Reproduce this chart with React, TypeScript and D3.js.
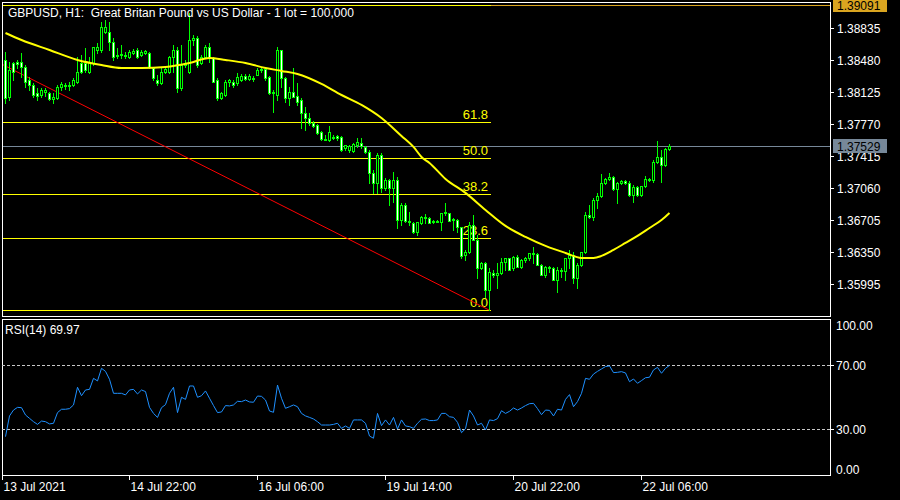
import React from "react";
import * as d3 from "d3";

const openP = [
  1.38484, 1.38073, 1.38451, 1.38462, 1.38462, 1.38406, 1.38262, 1.38207, 1.38118, 1.38096,
  1.38129, 1.38118, 1.38051, 1.38062, 1.38184, 1.38207, 1.38195, 1.38207, 1.3824, 1.38451,
  1.38451, 1.38351, 1.38451, 1.38594, 1.38594, 1.38794, 1.38794, 1.38683, 1.38539, 1.38539,
  1.38539, 1.38517, 1.38561, 1.38594, 1.38539, 1.38561, 1.38561, 1.38395, 1.38262, 1.38229,
  1.38351, 1.38351, 1.38517, 1.38594, 1.38173, 1.38429, 1.38351, 1.38705, 1.38728, 1.38451,
  1.38517, 1.38628, 1.38506, 1.38262, 1.38062, 1.38096, 1.3824, 1.3824, 1.38229, 1.38262,
  1.38306, 1.38273, 1.38284, 1.38317, 1.38373, 1.38384, 1.38295, 1.38118, 1.38096, 1.38594,
  1.38284, 1.38062, 1.38129, 1.38084, 1.3804, 1.37896, 1.3784, 1.37785, 1.37763, 1.37685,
  1.37608, 1.37596, 1.3763, 1.37641, 1.3763, 1.37508, 1.37486, 1.37474, 1.37541, 1.37563,
  1.37519, 1.37463, 1.3723, 1.3712, 1.3743, 1.37064, 1.37153, 1.37064, 1.37153, 1.36709,
  1.36876, 1.36698, 1.36676, 1.36576, 1.36676, 1.36743, 1.36731, 1.36698, 1.36698, 1.36687,
  1.36787, 1.36787, 1.3672, 1.36709, 1.36632, 1.36321, 1.36354, 1.36654, 1.36488, 1.36177,
  1.36232, 1.35933, 1.36122, 1.36099, 1.36122, 1.36243, 1.36288, 1.36177, 1.36299, 1.36188,
  1.36266, 1.36288, 1.36343, 1.36332, 1.3621, 1.36099, 1.36188, 1.36177, 1.36044, 1.36155,
  1.36144, 1.36288, 1.36321, 1.36066, 1.3621, 1.36354, 1.36765, 1.36743, 1.36931, 1.36975,
  1.3712, 1.37164, 1.37186, 1.37053, 1.3712, 1.37142, 1.3712, 1.36987, 1.37075, 1.36987,
  1.37086, 1.37164, 1.37153, 1.37353, 1.37408, 1.37319, 1.37497,
];
const highP = [
  1.38572, 1.38462, 1.38462, 1.38484, 1.38561, 1.38429, 1.38295, 1.38229, 1.38173, 1.38173,
  1.38173, 1.38129, 1.38118, 1.38207, 1.3824, 1.38229, 1.3824, 1.38284, 1.38517, 1.38539,
  1.38617, 1.38517, 1.38628, 1.38672, 1.38905, 1.38927, 1.38905, 1.38728, 1.38617, 1.3865,
  1.38572, 1.38594, 1.38606, 1.38617, 1.38594, 1.38594, 1.38572, 1.38406, 1.38317, 1.38395,
  1.38406, 1.38528, 1.3865, 1.38628, 1.3865, 1.38484, 1.39005, 1.38761, 1.3875, 1.38539,
  1.3865, 1.38672, 1.38517, 1.38284, 1.38129, 1.38262, 1.38273, 1.38262, 1.3834, 1.38328,
  1.38328, 1.38328, 1.38306, 1.38395, 1.38406, 1.38395, 1.38306, 1.38151, 1.38628, 1.38594,
  1.38295, 1.38184, 1.38395, 1.38229, 1.38062, 1.37962, 1.37896, 1.37807, 1.37774, 1.37696,
  1.37652, 1.37752, 1.37652, 1.37652, 1.37641, 1.37541, 1.37541, 1.37563, 1.37619, 1.37619,
  1.3753, 1.37486, 1.37264, 1.37452, 1.37452, 1.37175, 1.37164, 1.37242, 1.37186, 1.36898,
  1.36898, 1.36798, 1.36687, 1.36687, 1.36754, 1.36776, 1.36743, 1.36709, 1.36709, 1.36787,
  1.36898, 1.36787, 1.36731, 1.3672, 1.36632, 1.36377, 1.36687, 1.36765, 1.36543, 1.36243,
  1.36243, 1.36177, 1.36155, 1.36232, 1.36288, 1.36288, 1.36288, 1.3631, 1.36321, 1.36277,
  1.36299, 1.36343, 1.3641, 1.36343, 1.36221, 1.36199, 1.36199, 1.36188, 1.36188, 1.36177,
  1.36288, 1.36377, 1.36354, 1.36232, 1.36354, 1.36798, 1.36876, 1.36953, 1.37009, 1.37219,
  1.37175, 1.3723, 1.37197, 1.37131, 1.37153, 1.37153, 1.37142, 1.37097, 1.37086, 1.37086,
  1.37197, 1.37175, 1.37375, 1.37585, 1.37486, 1.37508, 1.37552,
];
const lowP = [
  1.38007, 1.3804, 1.38262, 1.38395, 1.38295, 1.38184, 1.38151, 1.38073, 1.3804, 1.38073,
  1.38084, 1.3804, 1.38007, 1.38051, 1.38151, 1.38162, 1.38151, 1.38195, 1.38229, 1.3834,
  1.38351, 1.3834, 1.38429, 1.38561, 1.38572, 1.38783, 1.38594, 1.38484, 1.38506, 1.38506,
  1.38506, 1.38506, 1.3855, 1.38506, 1.38528, 1.3855, 1.38395, 1.38262, 1.38207, 1.38218,
  1.3834, 1.3834, 1.38351, 1.38129, 1.38151, 1.38406, 1.3834, 1.3865, 1.38406, 1.3844,
  1.38506, 1.38462, 1.3824, 1.3804, 1.38051, 1.38084, 1.38195, 1.38184, 1.38207, 1.38251,
  1.38262, 1.38262, 1.38251, 1.38317, 1.38351, 1.38262, 1.38107, 1.37907, 1.3804, 1.38184,
  1.38018, 1.37985, 1.38073, 1.37985, 1.3773, 1.37707, 1.37763, 1.37741, 1.37663, 1.37596,
  1.37596, 1.37585, 1.37608, 1.37596, 1.37474, 1.37486, 1.37463, 1.37463, 1.37519, 1.37508,
  1.37452, 1.3712, 1.37009, 1.37009, 1.3702, 1.37042, 1.36876, 1.36909, 1.36621, 1.36654,
  1.36687, 1.36654, 1.36565, 1.36543, 1.36665, 1.36676, 1.36676, 1.36676, 1.36687, 1.36598,
  1.36765, 1.36698, 1.36598, 1.36576, 1.36288, 1.36266, 1.36343, 1.36488, 1.36066, 1.36166,
  1.35855, 1.35707, 1.36077, 1.35955, 1.3611, 1.36155, 1.36155, 1.36155, 1.36188, 1.36177,
  1.36243, 1.36266, 1.36232, 1.3621, 1.36099, 1.36077, 1.36133, 1.36044, 1.35911, 1.36077,
  1.36044, 1.36177, 1.36011, 1.35955, 1.36199, 1.36343, 1.36731, 1.36709, 1.36842, 1.36964,
  1.37109, 1.37153, 1.37042, 1.36898, 1.37109, 1.37109, 1.36975, 1.36909, 1.36975, 1.36975,
  1.37075, 1.37142, 1.37131, 1.37341, 1.37131, 1.37308, 1.37486,
];
const closeP = [
  1.38062, 1.38373, 1.38351, 1.3844, 1.38406, 1.3824, 1.38207, 1.38096, 1.38084, 1.38151,
  1.38151, 1.38051, 1.38073, 1.38184, 1.38218, 1.38195, 1.38207, 1.38262, 1.38351, 1.38351,
  1.38373, 1.38462, 1.38628, 1.38628, 1.3885, 1.3885, 1.38683, 1.38517, 1.38528, 1.3855,
  1.38528, 1.38572, 1.38583, 1.38517, 1.38572, 1.38583, 1.38406, 1.38284, 1.38229, 1.38351,
  1.38384, 1.38517, 1.38594, 1.38173, 1.38429, 1.38451, 1.38705, 1.38728, 1.38429, 1.38517,
  1.38628, 1.38506, 1.3824, 1.38062, 1.38118, 1.3824, 1.38262, 1.38207, 1.38295, 1.38306,
  1.38273, 1.38306, 1.38273, 1.38373, 1.38384, 1.38284, 1.38118, 1.38129, 1.38594, 1.38284,
  1.38062, 1.38129, 1.38073, 1.38018, 1.37896, 1.3784, 1.37785, 1.37752, 1.37674, 1.37608,
  1.37596, 1.37685, 1.37619, 1.37619, 1.37486, 1.37541, 1.3753, 1.37552, 1.37574, 1.3753,
  1.37463, 1.3723, 1.3712, 1.3743, 1.37064, 1.37153, 1.37064, 1.37153, 1.36709, 1.36876,
  1.36698, 1.36687, 1.36576, 1.36687, 1.36743, 1.36731, 1.36676, 1.36687, 1.36687, 1.36787,
  1.36798, 1.36698, 1.36709, 1.36632, 1.3631, 1.36354, 1.36654, 1.36488, 1.36177, 1.36232,
  1.35933, 1.36133, 1.36099, 1.36122, 1.36243, 1.36288, 1.36155, 1.36299, 1.36188, 1.36266,
  1.36288, 1.36343, 1.36332, 1.3621, 1.36099, 1.36188, 1.36177, 1.36044, 1.36155, 1.36144,
  1.36288, 1.36321, 1.36066, 1.3621, 1.36354, 1.36765, 1.36743, 1.36931, 1.36975, 1.3712,
  1.37164, 1.37186, 1.37053, 1.3712, 1.37142, 1.3712, 1.36987, 1.37075, 1.36987, 1.37086,
  1.37164, 1.37153, 1.37353, 1.37408, 1.37319, 1.37497, 1.37529,
];

const maIndex = [0, 4, 11, 18, 24, 29, 34, 40, 46, 51, 55, 60, 65, 69, 73, 79, 84, 89, 94, 99,
  102, 104, 106, 110, 115, 120, 125, 130, 135, 140, 144, 147, 149, 152, 155, 158, 161, 164, 166];
const maValue = [1.38783, 1.38705, 1.38594, 1.38484, 1.38428, 1.38395, 1.38395, 1.38406, 1.3845,
  1.38506, 1.38484, 1.3845, 1.38395, 1.38362, 1.38328, 1.38218, 1.38095, 1.37985, 1.3784, 1.37641,
  1.37519, 1.37408, 1.37341, 1.37164, 1.37009, 1.3682, 1.36643, 1.36521, 1.36421, 1.36343,
  1.36288, 1.36288, 1.3631, 1.36377, 1.36454, 1.36532, 1.3662, 1.36709, 1.36787];

const rsiValues = [
  25.2, 38.2, 41.9, 43.6, 43.4, 38.8, 36.7, 34.6, 32.9, 35.0,
  34.6, 33.2, 33.6, 40.3, 42.4, 42.4, 42.8, 45.1, 56.2, 50.9,
  54.5, 54.9, 61.8, 60.2, 68.1, 66.2, 61.2, 52.4, 52.4, 52.4,
  51.4, 54.5, 54.9, 52.0, 54.5, 53.5, 43.6, 39.8, 37.3, 43.4,
  45.3, 52.4, 56.2, 40.3, 49.9, 48.6, 57.0, 57.0, 49.9, 50.9,
  53.9, 49.3, 44.7, 40.3, 40.7, 44.7, 44.5, 45.1, 47.4, 47.2,
  48.2, 47.0, 46.8, 50.7, 50.5, 48.2, 41.3, 40.5, 57.6, 49.3,
  43.0, 44.0, 45.1, 44.0, 39.8, 38.2, 37.3, 36.3, 34.6, 32.5,
  32.5, 32.5, 32.9, 33.6, 30.4, 31.9, 30.4, 35.7, 35.7, 35.7,
  33.6, 25.6, 24.2, 39.8, 32.1, 35.7, 32.5, 37.3, 30.0, 35.7,
  31.9, 31.5, 30.4, 33.6, 36.1, 36.3, 35.3, 35.3, 35.7, 39.8,
  39.8, 37.7, 37.3, 34.2, 27.7, 30.2, 41.9, 38.2, 32.5, 33.6,
  29.4, 35.7, 35.3, 36.5, 41.5, 39.8, 41.1, 43.2, 41.9, 43.2,
  44.7, 45.9, 46.1, 42.8, 39.0, 41.9, 41.7, 38.2, 42.4, 41.9,
  48.6, 51.6, 44.0, 47.2, 52.4, 61.8, 61.2, 64.5, 66.2, 67.7,
  69.2, 69.6, 65.4, 65.6, 66.0, 65.2, 59.7, 61.4, 58.7, 60.4,
  62.2, 62.5, 67.1, 68.7, 65.0, 68.1, 69.97,
];

const priceTicks = [1.38835, 1.3848, 1.38125, 1.3777, 1.37415, 1.3706, 1.36705, 1.3635, 1.35995];
const rsiLevels = [70, 30];
const rsiTickLabels = [100, 70, 30, 0];
const timeLabels = ["13 Jul 2021", "14 Jul 22:00", "16 Jul 06:00", "19 Jul 14:00", "20 Jul 22:00", "22 Jul 06:00"];
const timeIndex = [-1, 31, 63, 95, 127, 159];
const fibLevels = [0, 23.6, 38.2, 50, 61.8, 100];
const fibHigh = 1.39091;
const fibLow = 1.35707;
const fibHighIndex = -30;
const fibLowIndex = 121;
const lastPrice = 1.37529;
const rsiLast = 69.97;
const title = "GBPUSD, H1:  Great Britan Pound vs US Dollar - 1 lot = 100,000";

export default function App() {
  const W = 900, H = 500;
  const L = 2, R = 830, mainTop = 2, mainBottom = 316, rsiTop = 319, rsiBottom = 475;
  const font = "'Liberation Sans', Arial, sans-serif";
  const x = d3.scaleLinear().domain([0, 166]).range([5, 669]);
  const y = d3.scaleLinear().domain([1.35995, 1.38835]).range([284.3, 28.3]);
  const yr = d3.scaleLinear().domain([0, 100]).range([476.8, 317.5]);
  const py = (p: number) => Math.round(y(p));
  const fibEnd = x(fibLowIndex) + 2;

  const maPts = maIndex.map((i, k) => [x(i) + 0.5, y(maValue[k])] as [number, number]);
  const maPath = d3.line().curve(d3.curveMonotoneX)(maPts) || "";
  const rsiPath = d3.line<number>().x((_, i) => x(i) + 0.5).y((v) => yr(v))(rsiValues) || "";

  const candles = openP.map((o, i) => {
    const c = closeP[i];
    const cx = Math.round(x(i));
    const hi = py(highP[i]);
    const lo = py(lowP[i]);
    const top = py(Math.max(o, c));
    const bot = py(Math.min(o, c));
    const bull = c >= o;
    return (
      <g key={i}>
        <rect x={cx} y={hi} width={1} height={lo - hi + 1} fill="#00FF00" />
        <rect x={cx - 1} y={top} width={3} height={bot - top + 1} fill="#00FF00" />
        {bot - top >= 2 && (
          <rect x={cx} y={top + 1} width={1} height={bot - top - 1} fill={bull ? "#000000" : "#FFFFFF"} />
        )}
      </g>
    );
  });

  return (
    <svg width={W} height={H} style={{ position: "absolute", left: 0, top: 0, display: "block" }}
      fontFamily={font}>
      <defs>
        <clipPath id="mainClip"><rect x={L} y={mainTop} width={R - L} height={mainBottom - mainTop} /></clipPath>
        <clipPath id="rsiClip"><rect x={L} y={rsiTop} width={R - L} height={rsiBottom - rsiTop} /></clipPath>
      </defs>
      <rect x={0} y={0} width={W} height={H} fill="#000000" />

      <g clipPath="url(#mainClip)">
        {/* last price line */}
        <line x1={L} x2={R} y1={py(lastPrice) + 0.5} y2={py(lastPrice) + 0.5} stroke="#778899" strokeWidth={1} />
        {/* high line */}
        <line x1={fibEnd} x2={R} y1={py(fibHigh) + 0.5} y2={py(fibHigh) + 0.5} stroke="#DAA520" strokeWidth={1} />
        {/* fibonacci levels */}
        {fibLevels.map((lv) => {
          const p = fibLow + ((fibHigh - fibLow) * lv) / 100;
          const yy = py(p) + 0.5;
          return (
            <g key={lv}>
              <line x1={L} x2={fibEnd} y1={yy} y2={yy} stroke="#FFFF00" strokeWidth={1} />
              {lv < 100 && (
                <text x={x(fibLowIndex) - 1} y={yy - 3.5} fill="#FFFF00" fontSize={13} textAnchor="end">
                  {lv.toFixed(1)}
                </text>
              )}
            </g>
          );
        })}
        <line x1={x(fibHighIndex)} y1={y(fibHigh)} x2={x(fibLowIndex) + 0.5} y2={y(fibLow)}
          stroke="#FF0000" strokeWidth={1} />
        {candles}
        <path d={maPath} fill="none" stroke="#FFFF00" strokeWidth={2} />
      </g>

      {/* frames */}
      <rect x={L + 0.5} y={mainTop + 0.5} width={R - L} height={mainBottom - mainTop} fill="none" stroke="#FFFFFF" />
      <rect x={L + 0.5} y={rsiTop + 0.5} width={R - L} height={rsiBottom - rsiTop} fill="none" stroke="#FFFFFF" />

      <text x={8} y={17} fill="#FFFFFF" fontSize={12} style={{ whiteSpace: "pre" }}>{title}</text>

      {/* price axis */}
      {priceTicks.map((t) => (
        <g key={t}>
          <line x1={R} x2={R + 4} y1={py(t) + 0.5} y2={py(t) + 0.5} stroke="#FFFFFF" />
          <text x={837} y={py(t) + 5} fill="#FFFFFF" fontSize={12}>{t.toFixed(5)}</text>
        </g>
      ))}
      <rect x={833} y={py(fibHigh) - 7} width={54} height={14} fill="#DAA520" />
      <text x={837} y={py(fibHigh) + 5} fill="#000000" fontSize={12}>{fibHigh.toFixed(5)}</text>
      <rect x={833} y={py(lastPrice) - 7} width={54} height={14} fill="#778899" />
      <text x={837} y={py(lastPrice) + 5} fill="#000000" fontSize={12}>{lastPrice.toFixed(5)}</text>

      {/* RSI panel */}
      <g clipPath="url(#rsiClip)">
        {rsiLevels.map((lv) => (
          <line key={lv} x1={L} x2={R} y1={Math.round(yr(lv)) + 0.5} y2={Math.round(yr(lv)) + 0.5}
            stroke="#C8C8C8" strokeWidth={1} strokeDasharray="3,2" />
        ))}
        <path d={rsiPath} fill="none" stroke="#1E90FF" strokeWidth={1} />
      </g>
      <text x={5} y={334} fill="#FFFFFF" fontSize={12}>{`RSI(14) ${rsiLast.toFixed(2)}`}</text>
      {rsiLevels.map((lv) => (
        <line key={lv} x1={R} x2={R + 4} y1={Math.round(yr(lv)) + 0.5} y2={Math.round(yr(lv)) + 0.5} stroke="#FFFFFF" />
      ))}
      {rsiTickLabels.map((lv) => {
        const yy = Math.min(Math.max(yr(lv), rsiTop + 6), rsiBottom - 6);
        return (
          <text key={lv} x={836} y={yy + 4.5} fill="#FFFFFF" fontSize={12}>{lv.toFixed(2)}</text>
        );
      })}

      {/* time axis */}
      {timeLabels.map((lab, k) => {
        const tx = timeIndex[k] < 0 ? L + 0.5 : Math.round(x(timeIndex[k])) + 0.5;
        return (
          <g key={lab}>
            <line x1={tx} x2={tx} y1={rsiBottom} y2={rsiBottom + 5} stroke="#FFFFFF" />
            <text x={tx + 1} y={491} fill="#FFFFFF" fontSize={12}>{lab}</text>
          </g>
        );
      })}
    </svg>
  );
}
